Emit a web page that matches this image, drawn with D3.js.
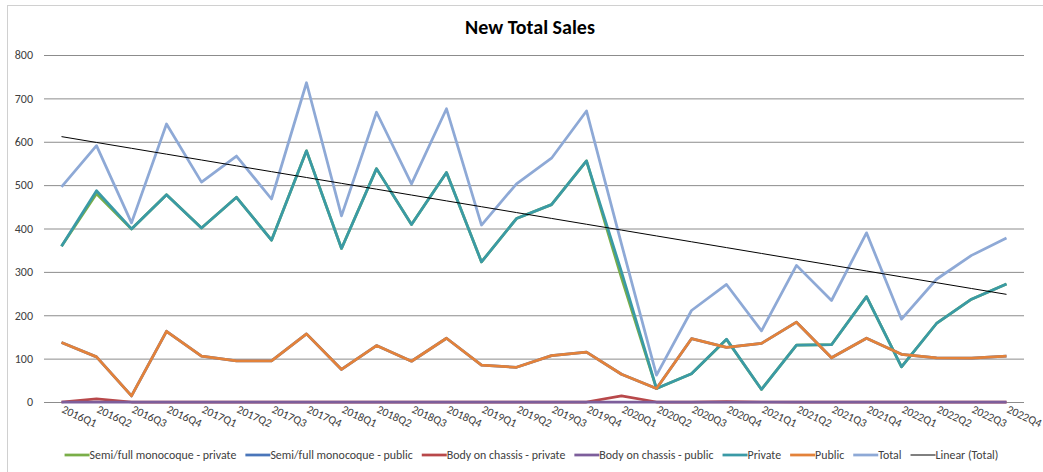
<!DOCTYPE html>
<html>
<head>
<meta charset="utf-8">
<script src="https://cdn.jsdelivr.net/npm/d3@7"></script>
<style>
  html, body { margin: 0; padding: 0; background: #fff; }
  svg { display: block; font-family: Carlito, Calibri, Lato, sans-serif; }
</style>
</head>
<body>
<svg id="chart" width="1043" height="472"></svg>
<script>
const categories = ["2016Q1","2016Q2","2016Q3","2016Q4","2017Q1","2017Q2","2017Q3","2017Q4",
  "2018Q1","2018Q2","2018Q3","2018Q4","2019Q1","2019Q2","2019Q3","2019Q4",
  "2020Q1","2020Q2","2020Q3","2020Q4","2021Q1","2021Q2","2021Q3","2021Q4",
  "2022Q1","2022Q2","2022Q3","2022Q4"];

const semiPrivate = [359,480,399,478,401,472,373,579,354,538,409,529,323,423,455,556,286,31,65,144,29,131,132,243,81,181,237,272];
const semiPublic  = [137,104,14,163,106,95,95,157,75,130,94,147,85,80,107,115,64,31,146,126,135,184,102,147,110,102,101,106];
const bodyPrivate = [0,7,0,0,0,0,0,0,0,0,0,0,0,0,0,0,14,0,0,1,0,0,0,0,0,0,0,0];
const bodyPublic  = [0,0,0,0,0,0,0,0,0,0,0,0,0,0,0,0,0,0,0,0,0,0,0,0,0,0,0,0];
const privateVals = [359,487,399,478,401,472,373,579,354,538,409,529,323,423,455,556,300,31,65,145,29,131,132,243,81,181,237,272];
const publicVals  = [137,104,14,163,106,95,95,157,75,130,94,147,85,80,107,115,64,31,146,126,135,184,102,147,110,102,101,106];
const totalVals   = [496,591,413,641,507,567,468,736,429,668,503,676,408,503,562,671,364,62,211,271,164,315,234,390,191,283,338,378];

const yTicks = [0,100,200,300,400,500,600,700,800];
const title = "New Total Sales";

const seriesDefs = [
  {name: "Semi/full monocoque - private", values: semiPrivate, color: "#7AAE48"},
  {name: "Semi/full monocoque - public",  values: semiPublic,  color: "#4A76BA"},
  {name: "Body on chassis - private",     values: bodyPrivate, color: "#B8484A"},
  {name: "Body on chassis - public",      values: bodyPublic,  color: "#7D5E9B"},
  {name: "Private",                       values: privateVals, color: "#3A9AA6"},
  {name: "Public",                        values: publicVals,  color: "#E3823A"},
  {name: "Total",                         values: totalVals,   color: "#8EA9D6"}
];

const svg = d3.select("#chart");

// chart frame
svg.append("rect").attr("x", 7.5).attr("y", 5.5).attr("width", 1050).attr("height", 480)
  .attr("fill", "#fff").attr("stroke", "#D0D0D0").attr("stroke-width", 1);

const plotLeft = 44, plotRight = 1024, plotTop = 55, plotBottom = 402;

const x = d3.scalePoint().domain(categories).range([plotLeft, plotRight]).padding(0.5);
const y = d3.scaleLinear().domain([0, 800]).range([plotBottom, plotTop]);

// title
svg.append("text").attr("x", 530).attr("y", 34).attr("text-anchor", "middle")
  .attr("font-size", 20).attr("font-weight", "bold").attr("fill", "#000").text(title);

// gridlines + y labels
const yAxis = d3.axisLeft(y).tickValues(yTicks).tickSize(-(plotRight - plotLeft)).tickPadding(11);
const gy = svg.append("g").attr("transform", `translate(${plotLeft},0)`).call(yAxis);
gy.select(".domain").remove();
gy.selectAll(".tick line").attr("stroke", "#8C8C8C").attr("stroke-width", 1);
gy.selectAll(".tick text").attr("font-size", 12).attr("fill", "#404040")
  .style("font-family", "Carlito, Calibri, Lato, sans-serif");

// x labels
const xAxis = d3.axisBottom(x).tickSize(0).tickPadding(0);
const gx = svg.append("g").attr("transform", `translate(0,${plotBottom})`).call(xAxis);
gx.select(".domain").remove();
gx.selectAll(".tick text")
  .attr("font-size", 11.5).attr("fill", "#404040")
  .style("font-family", "Carlito, Calibri, Lato, sans-serif")
  .attr("text-anchor", "start")
  .attr("x", 0).attr("y", 0).attr("dy", 0)
  .attr("transform", "translate(-1,10) rotate(25)");

// lines
const line = d3.line().x((d, i) => x(categories[i])).y(d => y(d));
seriesDefs.forEach(s => {
  svg.append("path").datum(s.values).attr("d", line)
    .attr("fill", "none").attr("stroke", s.color).attr("stroke-width", 2.75)
    .attr("stroke-linejoin", "round").attr("stroke-linecap", "butt");
});

// linear trend of Total (least squares)
const n = totalVals.length;
const xs = d3.range(n);
const mx = d3.mean(xs), my = d3.mean(totalVals);
const slope = d3.sum(xs, i => (i - mx) * (totalVals[i] - my)) / d3.sum(xs, i => (i - mx) ** 2);
const intercept = my - slope * mx;
const trend = xs.map(i => intercept + slope * i);
svg.append("path").datum(trend).attr("d", line)
  .attr("fill", "none").attr("stroke", "#000").attr("stroke-width", 1);

// legend
const legendItems = seriesDefs.map(s => ({name: s.name, color: s.color, width: 2.75}))
  .concat([{name: "Linear (Total)", color: "#000", width: 1}]);
const lg = svg.append("g");
let cx = 0;
const swatch = 25, gap = 9, legendY = 459;
legendItems.forEach(it => {
  const g = lg.append("g").attr("transform", `translate(${cx},0)`);
  g.append("line").attr("x1", 0).attr("x2", swatch).attr("y1", legendY - 4).attr("y2", legendY - 4)
    .attr("stroke", it.color).attr("stroke-width", it.width);
  const t = g.append("text").attr("x", swatch).attr("y", legendY).attr("font-size", 11.9)
    .attr("fill", "#404040").text(it.name);
  cx += swatch + t.node().getComputedTextLength() + gap;
});
const totalW = cx - gap;
lg.attr("transform", `translate(${531.5 - totalW / 2},0)`);
</script>
</body>
</html>
